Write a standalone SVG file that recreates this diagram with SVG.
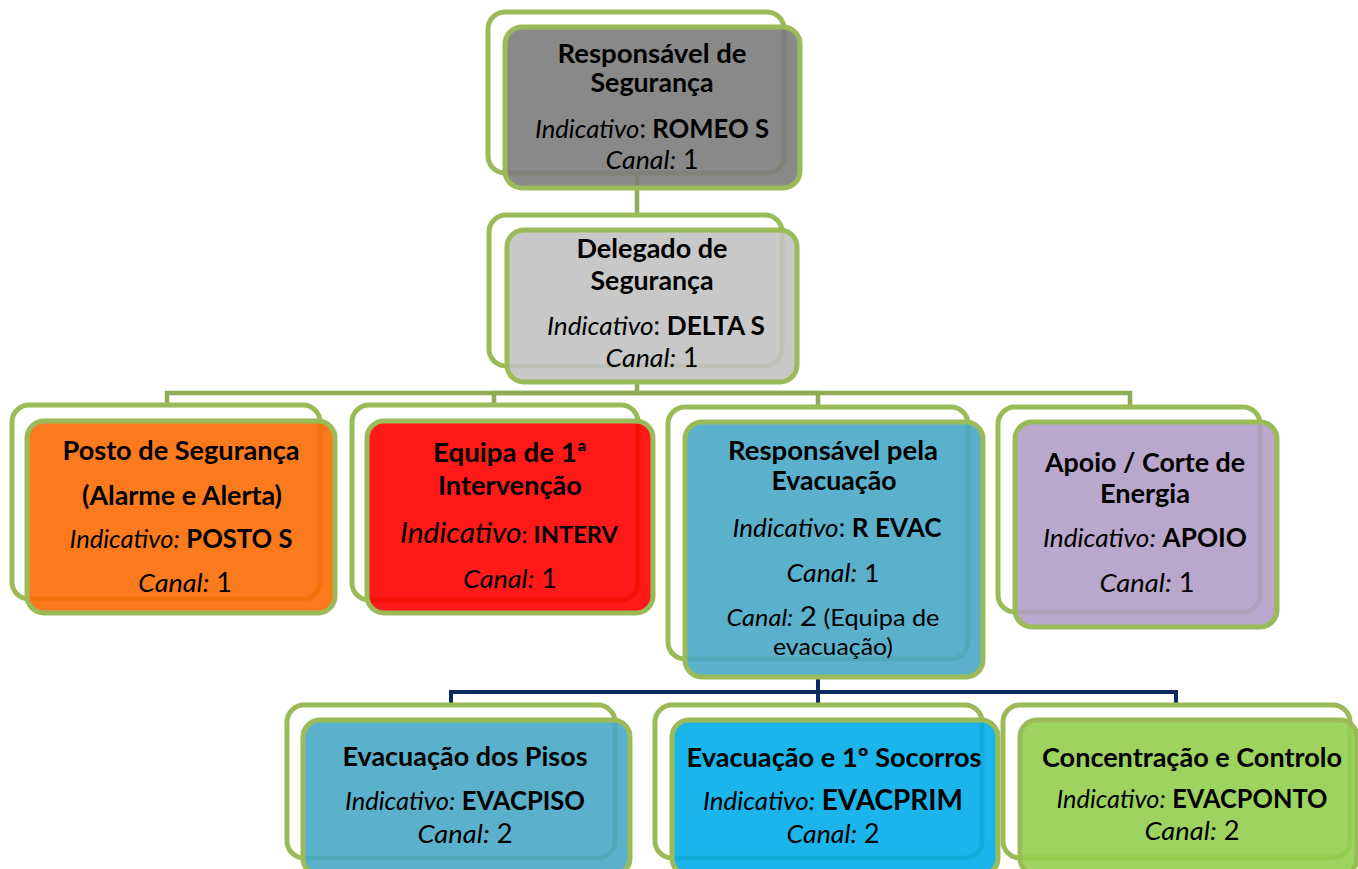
<svg xmlns="http://www.w3.org/2000/svg" width="1358" height="869" viewBox="0 0 1358 869">
<style>
.bk{fill:#ffffff;stroke:#9bbb59;stroke-width:5}
.fr{stroke:#9bbb59;stroke-width:5;fill-opacity:0.9}
.cg{fill:none;stroke:#8fab55;stroke-width:4.5}
.cn{fill:none;stroke:#0f2a63;stroke-width:4}
text{font-family:Lato,"Liberation Sans",sans-serif;font-size:26px;fill:#000;text-anchor:middle}
.b{font-weight:bold}
.i{font-style:italic}
</style>
<rect width="1358" height="869" fill="#ffffff"/>
<g id="connectors">
<path class="cg" d="M637,173 V215"/>
<path class="cg" d="M637,382 V393 H167 V405"/>
<path class="cg" d="M637,393 H494 V405"/>
<path class="cg" d="M637,393 H818 V407"/>
<path class="cg" d="M637,393 H1130 V407"/>
<path class="cn" d="M818,677 V692 H451 V705"/>
<path class="cn" d="M818,692 V705"/>
<path class="cn" d="M818,692 H1176 V705"/>
</g>
<g id="n-responsavel-seguranca">
<rect class="bk" x="488" y="12" width="296" height="161" rx="17"/>
<rect class="fr" x="505" y="27" width="295" height="161" rx="17" fill="#7c7c7c"/>
<text class="b" x="652" y="63" textLength="189" lengthAdjust="spacingAndGlyphs">Responsável de</text>
<text class="b" x="652" y="92" textLength="123" lengthAdjust="spacingAndGlyphs">Segurança</text>
<text x="652" y="138" textLength="234" lengthAdjust="spacingAndGlyphs"><tspan class="i">Indicativo</tspan>: <tspan class="b">ROMEO S</tspan></text>
<text x="652" y="169" textLength="93" lengthAdjust="spacingAndGlyphs"><tspan class="i">Canal:</tspan> 1</text>
</g>
<g id="n-delegado-seguranca">
<rect class="bk" x="489" y="215" width="293" height="151" rx="17"/>
<rect class="fr" x="507" y="230" width="290" height="152" rx="17" fill="#c2c2c2"/>
<text class="b" x="652" y="258" textLength="151" lengthAdjust="spacingAndGlyphs">Delegado de</text>
<text class="b" x="652" y="290" textLength="123" lengthAdjust="spacingAndGlyphs">Segurança</text>
<text x="656" y="335" textLength="218" lengthAdjust="spacingAndGlyphs"><tspan class="i">Indicativo</tspan>: <tspan class="b">DELTA S</tspan></text>
<text x="652" y="367" textLength="93" lengthAdjust="spacingAndGlyphs"><tspan class="i">Canal:</tspan> 1</text>
</g>
<g id="n-posto-seguranca">
<rect class="bk" x="12" y="405" width="308" height="194" rx="17"/>
<rect class="fr" x="27" y="421" width="308" height="192" rx="17" fill="#fb6b06"/>
<text class="b" x="181" y="460" textLength="237" lengthAdjust="spacingAndGlyphs">Posto de Segurança</text>
<text class="b" x="182" y="505" textLength="200" lengthAdjust="spacingAndGlyphs">(Alarme e Alerta)</text>
<text x="181" y="548" textLength="223" lengthAdjust="spacingAndGlyphs"><tspan class="i">Indicativo:</tspan> <tspan class="b">POSTO S</tspan></text>
<text x="185" y="592" textLength="94" lengthAdjust="spacingAndGlyphs"><tspan class="i">Canal:</tspan> 1</text>
</g>
<g id="n-equipa-intervencao">
<rect class="bk" x="352" y="405" width="286" height="195" rx="17"/>
<rect class="fr" x="367" y="421" width="286" height="192" rx="17" fill="#ff0000"/>
<text class="b" x="510" y="462" textLength="154" lengthAdjust="spacingAndGlyphs">Equipa de 1ª</text>
<text class="b" x="510" y="495" textLength="144" lengthAdjust="spacingAndGlyphs">Intervenção</text>
<text x="509" y="543" textLength="218" lengthAdjust="spacingAndGlyphs"><tspan class="i" style="font-size:29px">Indicativo</tspan><tspan style="font-size:23px">: </tspan><tspan class="b" style="font-size:23px">INTERV</tspan></text>
<text x="510" y="588" textLength="94" lengthAdjust="spacingAndGlyphs"><tspan class="i">Canal:</tspan> 1</text>
</g>
<g id="n-responsavel-evacuacao">
<rect class="bk" x="668" y="407" width="300" height="252" rx="17"/>
<rect class="fr" x="685" y="422" width="298" height="255" rx="17" fill="#49a9c5"/>
<text class="b" x="833" y="460" textLength="210" lengthAdjust="spacingAndGlyphs">Responsável pela</text>
<text class="b" x="834" y="490" textLength="125" lengthAdjust="spacingAndGlyphs">Evacuação</text>
<text x="837" y="537" textLength="209" lengthAdjust="spacingAndGlyphs"><tspan class="i">Indicativo</tspan>: <tspan class="b">R EVAC</tspan></text>
<text x="833" y="582" textLength="93" lengthAdjust="spacingAndGlyphs" style="font-size:25px"><tspan class="i">Canal:</tspan> 1</text>
<text x="833" y="626" textLength="213" lengthAdjust="spacingAndGlyphs" style="font-size:23px"><tspan class="i">Canal:</tspan> <tspan style="font-size:27px">2</tspan> (Equipa de</text>
<text x="833" y="655" textLength="120" lengthAdjust="spacingAndGlyphs" style="font-size:23px">evacuação)</text>
</g>
<g id="n-apoio-energia">
<rect class="bk" x="998" y="407" width="262" height="205" rx="17"/>
<rect class="fr" x="1015" y="422" width="262" height="205" rx="17" fill="#b19ec5"/>
<text class="b" x="1145" y="472" textLength="200" lengthAdjust="spacingAndGlyphs">Apoio / Corte de</text>
<text class="b" x="1145" y="503" textLength="90" lengthAdjust="spacingAndGlyphs">Energia</text>
<text x="1145" y="547" textLength="204" lengthAdjust="spacingAndGlyphs"><tspan class="i">Indicativo:</tspan> <tspan class="b">APOIO</tspan></text>
<text x="1147" y="592" textLength="95" lengthAdjust="spacingAndGlyphs"><tspan class="i">Canal:</tspan> 1</text>
</g>
<g id="n-evacuacao-pisos">
<rect class="bk" x="287" y="705" width="328" height="153" rx="17"/>
<rect class="fr" x="303" y="720" width="327" height="155" rx="17" fill="#49a9c5"/>
<text class="b" x="465" y="766" textLength="245" lengthAdjust="spacingAndGlyphs">Evacuação dos Pisos</text>
<text x="465" y="810" textLength="240" lengthAdjust="spacingAndGlyphs"><tspan class="i">Indicativo:</tspan> <tspan class="b">EVACPISO</tspan></text>
<text x="465" y="843" textLength="95" lengthAdjust="spacingAndGlyphs"><tspan class="i">Canal:</tspan> 2</text>
</g>
<g id="n-evacuacao-socorros">
<rect class="bk" x="655" y="705" width="327" height="153" rx="17"/>
<rect class="fr" x="672" y="720" width="326" height="155" rx="17" fill="#02adea"/>
<text class="b" x="834" y="767" textLength="295" lengthAdjust="spacingAndGlyphs">Evacuação e 1º Socorros</text>
<text x="833" y="810" textLength="260" lengthAdjust="spacingAndGlyphs"><tspan class="i">Indicativo:</tspan> <tspan class="b" style="font-size:28px">EVACPRIM</tspan></text>
<text x="833" y="843" textLength="93" lengthAdjust="spacingAndGlyphs"><tspan class="i">Canal:</tspan> 2</text>
</g>
<g id="n-concentracao-controlo">
<rect class="bk" x="1003" y="705" width="347" height="153" rx="17"/>
<rect class="fr" x="1020" y="720" width="337" height="155" rx="17" fill="#92ce4d"/>
<text class="b" x="1192" y="767" textLength="300" lengthAdjust="spacingAndGlyphs">Concentração e Controlo</text>
<text x="1192" y="808" textLength="271" lengthAdjust="spacingAndGlyphs"><tspan class="i">Indicativo:</tspan> <tspan class="b">EVACPONTO</tspan></text>
<text x="1192" y="840" textLength="95" lengthAdjust="spacingAndGlyphs"><tspan class="i">Canal:</tspan> 2</text>
</g>
</svg>
